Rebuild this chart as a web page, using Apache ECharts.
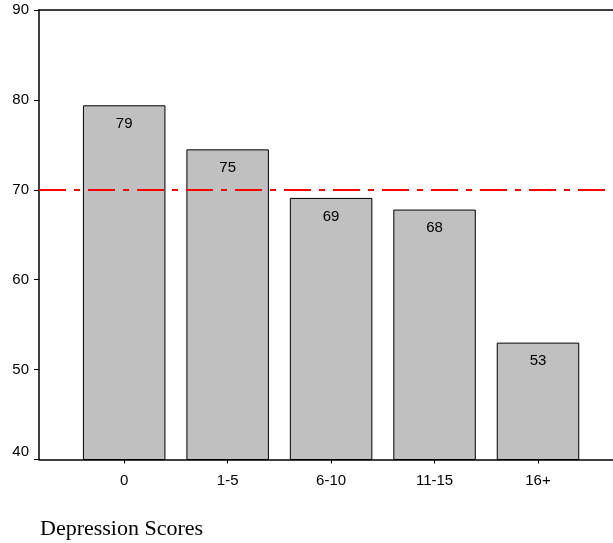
<!DOCTYPE html>
<html>
<head>
<meta charset="utf-8">
<script src="https://cdn.jsdelivr.net/npm/echarts@6/dist/echarts.min.js"></script>
<style>
html,body{margin:0;padding:0;background:#fff;}
#chart{width:613px;height:543px;}
</style>
</head>
<body>
<div id="chart"></div>
<script>
var categories = ["0", "1-5", "6-10", "11-15", "16+"];
var values = [79.4, 74.5, 69.1, 67.8, 53.0];
var barLabels = ["79", "75", "69", "68", "53"];
var referenceValue = 70;
var yTicks = [40, 50, 60, 70, 80, 90];
var xTitle = "Depression Scores";

var chart = echarts.init(document.getElementById('chart'), null, {renderer: 'canvas'});
var positions = categories.map(function (c, i) { return i; });
var xMin = -0.8236, xMax = 4.725;
var option = {
  animation: false,
  title: {
    text: xTitle,
    left: 40,
    top: 518,
    padding: 0,
    textStyle: {fontFamily: 'Liberation Serif', fontSize: 22, fontWeight: 'normal', color: '#000'}
  },
  grid: {
    left: 39, top: 10, bottom: 83.5, right: 0,
    show: false
  },
  xAxis: [{
    type: 'value',
    min: xMin,
    max: xMax,
    splitLine: {show: false},
    axisLine: {show: true, onZero: false, lineStyle: {color: '#000', width: 1.5}},
    axisTick: {show: true, customValues: positions, length: 4, lineStyle: {color: '#000'}},
    axisLabel: {
      show: true, customValues: positions, margin: 14,
      fontFamily: 'Liberation Sans', fontSize: 15, color: '#000',
      formatter: function (v) { return categories[Math.round(v)]; }
    }
  }, {
    type: 'value',
    position: 'top',
    min: xMin,
    max: xMax,
    splitLine: {show: false},
    axisLine: {show: true, onZero: false, lineStyle: {color: '#000', width: 1.5}},
    axisTick: {show: false},
    axisLabel: {show: false}
  }],
  yAxis: {
    type: 'value',
    min: yTicks[0],
    max: yTicks[yTicks.length - 1],
    interval: 10,
    splitLine: {show: false},
    axisLine: {show: true, onZero: false, lineStyle: {color: '#000', width: 1.5}},
    axisTick: {show: true, length: 5, lineStyle: {color: '#000'}},
    axisLabel: {
      margin: 10, padding: [5, 0, 0, 0], verticalAlignMinLabel: 'bottom',
      fontFamily: 'Liberation Sans', fontSize: 15, color: '#000'
    }
  },
  series: [{
    type: 'bar',
    xAxisIndex: 0,
    data: values.map(function (v, i) { return [positions[i], v]; }),
    barWidth: 82.5,
    itemStyle: {color: '#c0c0c0', borderColor: '#000', borderWidth: 1},
    label: {
      show: true, position: 'insideTop', distance: 11,
      fontFamily: 'Liberation Sans', fontSize: 15, color: '#000',
      formatter: function (p) { return barLabels[p.dataIndex]; }
    },
    markLine: {
      silent: true,
      symbol: ['none', 'none'],
      label: {show: false},
      lineStyle: {color: '#ff0000', width: 2, type: [27, 8, 6, 8], dashOffset: 0},
      data: [{yAxis: referenceValue}]
    }
  }]
};
chart.setOption(option);
</script>
</body>
</html>
